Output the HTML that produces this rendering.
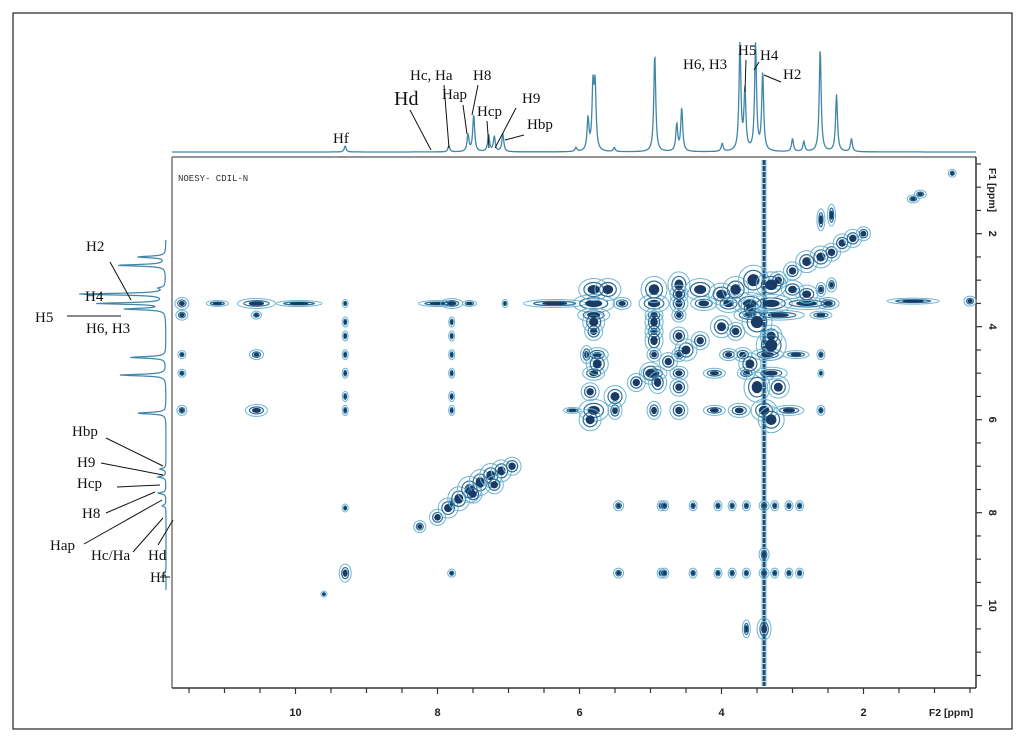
<!DOCTYPE html>
<html><head><meta charset="utf-8">
<style>
html,body{margin:0;padding:0;background:#fff;width:1024px;height:741px;overflow:hidden}
svg text{font-family:"Liberation Serif",serif}
</style></head>
<body>
<svg id="chart" width="1024" height="741" viewBox="0 0 1024 741" xmlns="http://www.w3.org/2000/svg">
<rect x="13" y="13" width="999" height="716" fill="#fff" stroke="#222" stroke-width="1.2"/>
<g id="frame"></g>
<g id="peaks"></g>
<g id="top1d"></g>
<g id="left1d"></g>
<g id="labels"></g>
<text x="178" y="181" font-family="Liberation Mono, monospace" font-size="9" fill="#333" style="font-family:'Liberation Mono',monospace">NOESY- CDIL-N</text>
</svg>
<script>
// ---- data ----
const xTicks=[10,8,6,4,2];
const yTicks=[2,4,6,8,10];
// 1D spectrum peaks (ppm, height px)
const topPpm=[9.30,7.84,7.57,7.49,7.28,7.20,7.08,6.05,5.88,5.81,5.78,5.51,4.94,4.63,4.56,3.99,3.74,3.67,3.52,3.42,3.00,2.84,2.61,2.38,2.17];
const topH=[6,6,17,37,17,15,18,4,32,62,62,4,98,27,43,8,107,60,107,78,13,10,103,57,13];
const leftPpm=[2.50,2.68,3.17,3.30,3.50,3.62,4.66,5.04,5.86,7.06,7.23,7.58,7.85,9.3];
const leftH=[28,49,6,88,68,40,36,46,29,6,8,8,4,3];
// cross peaks: F2 ppm, F1 ppm, rx px, ry px
const pkF2=[11.6,11.1,10.55,9.95,9.3,8.0,7.8,7.55,7.05,6.35,5.8,5.4,4.95,4.6,4.25,3.9,3.6,3.3,2.8,2.5,1.3,0.5,
 11.6,10.55,5.8,4.95,4.6,3.6,3.2,2.6,
 11.6,10.55,9.3,7.8,5.9,5.75,4.95,4.6,3.9,3.7,3.35,2.95,2.6,
 11.6,9.3,7.8,5.8,4.95,4.6,4.1,3.65,3.3,2.6,
 11.6,10.55,9.3,7.8,6.1,5.8,5.5,4.95,4.6,4.1,3.75,3.4,3.05,2.6,
 9.3,9.3,9.3,7.8,7.8,7.8,7.8,
 5.5,5.0,4.5,4.0,3.6,5.2,4.75,4.3,
 3.2,3.0,2.8,2.6,2.45,2.3,2.15,2.0,2.6,2.45,2.6,2.45,1.3,1.2,0.75,
 5.8,5.6,4.95,4.6,4.3,4.0,3.8,3.55,3.3,3.0,2.8,5.8,4.95,4.6,3.8,3.3,
 8.25,8.0,7.85,7.7,7.55,7.4,7.25,7.1,6.95,7.5,7.2,
 5.45,4.85,4.8,4.4,4.05,3.85,3.65,3.4,3.25,3.05,2.9,
 5.45,4.85,4.8,4.4,4.05,3.85,3.65,3.4,3.25,3.05,2.9,
 9.3,9.3,7.8,9.6,3.65,3.4,3.4,
 5.8,5.75,5.85,4.95,4.9,4.6,4.6,3.5,3.3,3.6,3.2,5.85,4.95,3.5,3.3];
const pkF1=[3.5,3.5,3.5,3.5,3.5,3.5,3.5,3.5,3.5,3.5,3.5,3.5,3.5,3.5,3.5,3.5,3.5,3.5,3.5,3.5,3.45,3.45,
 3.75,3.75,3.75,3.75,3.75,3.75,3.75,3.75,
 4.6,4.6,4.6,4.6,4.6,4.6,4.6,4.6,4.6,4.6,4.6,4.6,4.6,
 5.0,5.0,5.0,5.0,5.0,5.0,5.0,5.0,5.0,5.0,
 5.8,5.8,5.8,5.8,5.8,5.8,5.8,5.8,5.8,5.8,5.8,5.8,5.8,5.8,
 3.9,4.2,5.5,3.9,4.2,5.5,7.8,
 5.5,5.0,4.5,4.0,3.6,5.2,4.75,4.3,
 3.0,2.8,2.6,2.5,2.4,2.2,2.1,2.0,1.7,1.6,3.2,3.1,1.25,1.15,0.7,
 3.2,3.2,3.2,3.1,3.2,3.3,3.2,3.0,3.1,3.2,3.3,4.1,4.1,4.2,4.1,4.2,
 8.3,8.1,7.9,7.7,7.5,7.35,7.2,7.1,7.0,7.6,7.4,
 7.85,7.85,7.85,7.85,7.85,7.85,7.85,7.85,7.85,7.85,7.85,
 9.3,9.3,9.3,9.3,9.3,9.3,9.3,9.3,9.3,9.3,9.3,
 7.9,9.3,9.3,9.75,10.5,10.5,8.9,
 3.9,4.8,6.0,3.9,5.2,3.3,5.3,3.9,4.4,4.8,5.3,5.4,4.3,5.3,6.0];
const pkRx=[6,10,18,22,2,18,10,6,2,30,20,8,14,8,12,12,16,20,25,10,25,5,
 5,4,15,8,6,15,25,10,
 3,6,2,2,5,10,6,6,8,8,15,12,3,
 3,2,2,10,12,8,10,8,15,2,
 4,10,2,2,8,14,6,6,8,10,10,12,14,3,
 2,2,2,2,2,2,2,
 10,10,10,10,8,8,8,8,
 8,8,10,10,8,8,8,6,3,3,4,4,5,5,3,
 14,12,12,10,14,12,12,14,14,10,10,8,8,8,8,10,
 5,7,9,10,11,10,10,9,8,8,8,
 4,3,3,3,3,3,3,4,3,3,3,
 4,3,3,3,3,3,3,4,3,3,3,
 2,5,3,2,3,6,4,
 10,10,10,8,8,8,8,14,14,10,10,8,8,12,12];
const pkRy=[5,2,4,2,3,2,4,2,3,3,8,5,8,8,6,8,10,8,5,5,2,4,
 4,3,6,6,6,6,4,3,
 3,4,4,4,8,6,6,6,5,6,5,3,4,
 3,4,4,6,6,6,4,5,5,3,
 4,5,4,4,2,10,8,8,8,4,6,10,4,4,
 4,4,4,4,4,4,4,
 10,10,10,10,8,8,8,8,
 8,8,10,10,8,8,8,6,10,10,6,6,3,3,3,
 10,10,12,12,10,10,12,14,12,8,8,8,8,8,8,10,
 5,7,9,11,12,12,11,10,8,8,8,
 4,4,4,4,4,4,4,4,4,4,4,
 4,4,4,4,4,4,4,4,4,4,4,
 3,8,3,2,8,10,6,
 10,10,10,10,10,8,8,14,14,10,10,8,10,14,12];

// ---- scales ----
function X(p){return 295.5+(10-p)*71;}
function Y(p){return 512.7+(p-8)*46.5;}
const NS="http://www.w3.org/2000/svg";
function mk(tag,attrs,parent){const e=document.createElementNS(NS,tag);for(const k in attrs)e.setAttribute(k,attrs[k]);parent.appendChild(e);return e;}

// ---- frame / axes ----
const fr=document.getElementById('frame');
const L=172,T=157,R=976,B=688;
let ln=mk('line',{x1:L,y1:T,x2:R,y2:T,stroke:'#555','stroke-width':1.2},fr);


ln=mk('line',{x1:L,y1:T,x2:L,y2:B,stroke:'#777','stroke-width':1.5},fr);


ln=mk('line',{x1:L,y1:B,x2:R,y2:B,stroke:'#333','stroke-width':1.5},fr);


ln=mk('line',{x1:R,y1:T,x2:R,y2:B,stroke:'#333','stroke-width':1.5},fr);


for(let p=11.5;p>=0.5;p-=0.5){const x=X(p);if(x<L||x>R)continue;
 const t=mk('line',{x1:x,y1:B,x2:x,y2:B+(p%2===0?6:5),stroke:'#333','stroke-width':1.2},fr);
 
 }
for(let p=0.5;p<=11.5;p+=0.5){const y=Y(p);if(y<T||y>B)continue;
 const t=mk('line',{x1:R,y1:y,x2:R+(p%2===0?6:5),y2:y,stroke:'#333','stroke-width':1.2},fr);
 
 }
xTicks.forEach(v=>{const t=mk('text',{x:X(v),y:716,'text-anchor':'middle','font-size':11,'font-weight':'bold',fill:'#222',style:"font-family:'Liberation Sans',sans-serif"},fr);t.textContent=v;
 
 });
yTicks.forEach(v=>{const t=mk('text',{x:0,y:0,transform:`translate(989,${Y(v)}) rotate(90)`,'text-anchor':'middle','font-size':11,'font-weight':'bold',fill:'#222',style:"font-family:'Liberation Sans',sans-serif"},fr);t.textContent=v;
 
 });
let at=mk('text',{x:951,y:716,'text-anchor':'middle','font-size':10.5,'font-weight':'bold',fill:'#222',style:"font-family:'Liberation Sans',sans-serif"},fr);at.textContent='F2 [ppm]';


at=mk('text',{x:0,y:0,transform:'translate(989,190) rotate(90)','text-anchor':'middle','font-size':10.5,'font-weight':'bold',fill:'#222',style:"font-family:'Liberation Sans',sans-serif"},fr);at.textContent='F1 [ppm]';



// ---- cross peaks ----
const pg=document.getElementById('peaks');
let st=mk('line',{x1:X(3.4),y1:160,x2:X(3.4),y2:686,stroke:'#5aa9c9','stroke-width':6,opacity:0.4},pg);


st=mk('line',{x1:X(3.4),y1:160,x2:X(3.4),y2:686,stroke:'#1e4f7a','stroke-width':3,'stroke-dasharray':'5 1'},pg);


for(let i=0;i<pkF2.length;i++){
 const cx=X(pkF2[i]),cy=Y(pkF1[i]),rx=pkRx[i],ry=pkRy[i];
 if(cx<L+1)continue;
 const g=mk('g',{},pg);
 
 
 mk('ellipse',{cx,cy,rx:rx+1,ry:ry+1,fill:'none',stroke:'#6cb6d4','stroke-width':1},g);
 mk('ellipse',{cx,cy,rx:Math.max(rx*0.7,1),ry:Math.max(ry*0.7,1),fill:'none',stroke:'#2f6f96','stroke-width':1.2},g);
 mk('ellipse',{cx,cy,rx:Math.max(rx*0.4,1),ry:Math.max(ry*0.4,1),fill:'#1a3b66',stroke:'#1a3b66','stroke-width':1},g);
}

// ---- top 1D spectrum ----
function lor(p,ppms,hs,g){let s=0;for(let k=0;k<ppms.length;k++){const d=(p-ppms[k])/g;s+=hs[k]/(1+d*d);}return s;}
let d='';
for(let x=L;x<=R;x+=0.5){const p=10-(x-295.5)/71;const v=Math.min(lor(p,topPpm,topH,0.016),110);d+=(d?'L':'M')+x.toFixed(1)+','+(152-v).toFixed(1);}
let tp=mk('path',{d,fill:'none',stroke:'#3f86a8','stroke-width':1.3},document.getElementById('top1d'));


// ---- left 1D spectrum ----
d='';
for(let y=240;y<=590;y+=0.5){const p=8+(y-512.7)/46.5;const v=lor(p,leftPpm,leftH,0.02);d+=(d?'L':'M')+(166-v).toFixed(1)+','+y.toFixed(1);}
let lp=mk('path',{d,fill:'none',stroke:'#3f86a8','stroke-width':1.2},document.getElementById('left1d'));



// ---- labels ----
const lg=document.getElementById('labels');
const labs=[
 ['Hf',333,143,15,null],['Hd',394,105,20,[410,110,431,150]],['Hc, Ha',410,80,15,[444,85,449,148]],['Hap',442,99,15,[463,105,467,134]],
 ['H8',473,80,15,[478,85,472,115]],['Hcp',477,116,15,[487,121,489,148]],['H9',522,103,15,[516,108,495,148]],['Hbp',527,129,15,[524,135,505,140]],
 ['H6, H3',683,69,15,null],['H5',738,55,15,[746,60,745,92]],['H4',760,60,15,[759,62,754,70]],['H2',783,79,15,[781,82,764,75]],
 ['H2',86,251,15,[110,262,131,300]],['H4',85,301,15,null],['H5',35,322,15,[67,316,121,316]],['H6, H3',86,333,15,null],
 ['Hbp',72,436,15,[106,438,163,466]],['H9',77,467,15,[101,463,163,475]],['Hcp',77,488,15,[117,487,160,485]],['H8',82,518,15,[106,513,155,492]],
 ['Hap',50,550,15,[84,544,162,500]],['Hc/Ha',91,560,15,[133,552,163,518]],['Hd',148,560,15,[158,545,173,520]],['Hf',150,582,15,[160,577,170,577]]
];
labs.forEach(a=>{const t=mk('text',{x:a[1],y:a[2],'font-size':a[3],fill:'#111'},lg);t.textContent=a[0];
 
 
 if(a[4]){const l=mk('line',{x1:a[4][0],y1:a[4][1],x2:a[4][2],y2:a[4][3],stroke:'#111','stroke-width':1},lg);
 
 }});
</script>
</body></html>
